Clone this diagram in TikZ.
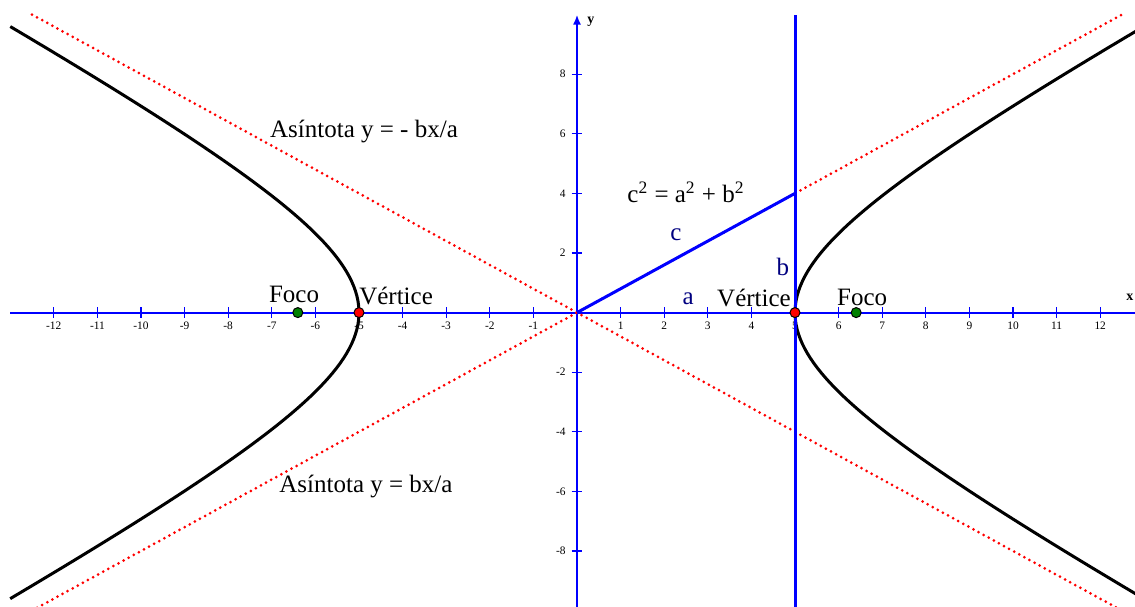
\documentclass[tikz,border=0pt]{standalone}
\usepackage{fontspec}
\setmainfont{Liberation Serif}
\usetikzlibrary{arrows.meta,positioning}
\definecolor{axisblue}{HTML}{0000FF}
\definecolor{navy}{HTML}{000080}
\definecolor{foco}{HTML}{008000}

\begin{document}
\begin{tikzpicture}[x=21.8pt,y=14.9pt,>={Latex[length=5pt,width=4pt]},
axis/.style={axisblue,line width=1pt},
tickmark/.style={axisblue,line width=0.6pt},
asym/.style={red,line width=1.5pt,dash pattern=on 0pt off 2.9pt,line cap=round},
curve/.style={black,line width=1.5pt},
lbl/.style={font=\fontsize{12.5}{15}\selectfont},
seg/.style={lbl,text=navy},
ticklbl/.style={font=\fontsize{5.7}{6}\selectfont},
pt/.style={circle,draw=black,line width=0.5pt,inner sep=0pt,minimum size=5pt}]
\useasboundingbox (-13.234,-9.846) rectangle (12.798,10.49);
% axes
\coordinate (xl) at (-13,0);
\coordinate (xr) at (13.3,0);
\coordinate (yb) at (0,-10);
\coordinate (yt) at (0,10);
\foreach \x in {-12,...,-1,1,2,...,12} {
  \draw[tickmark] (\x,-0.18) -- (\x,0.18);
  \node[ticklbl] at (\x,-0.43) {\x};
}
\foreach \y in {-8,-6,-4,-2,2,4,6,8} {
  \draw[tickmark] (-0.125,\y) -- (0.125,\y);
  \node[ticklbl,anchor=east] at (-0.1,\y) {\y};
}
\draw[axis,->] (xl) -- (xr);
\draw[axis,->] (yb) -- (yt);
\node[font=\fontsize{7}{8}\selectfont\bfseries] (xlab) at (12.68,0.5) {x};
\node[font=\fontsize{7}{8}\selectfont\bfseries] (ylab) at (0.32,9.75) {y};
% asintotas
\draw[asym] (-12.5,10) -- (12.5,-10);
\draw[asym] (-12.5,-10) -- (12.5,10);
% hiperbola
\draw[curve] plot[domain=-9.6:9.6,samples=120,variable=\t] ({5*sqrt(1+\t*\t/16)},\t);
\draw[curve] plot[domain=-9.6:9.6,samples=120,variable=\t] ({-5*sqrt(1+\t*\t/16)},\t);
% triangulo
\coordinate (O) at (0,0);
\coordinate (P) at (5,4);
\coordinate (vb) at (5,-10);
\coordinate (vt) at (5,10);
\draw[axisblue,line width=1.5pt] (vb) -- (vt);
\draw[axisblue,line width=1.5pt] (O) -- (P);
% puntos
\node[pt,fill=red] (v1) at (-5,0) {};
\node[pt,fill=red] (v2) at (5,0) {};
\node[pt,fill=foco] (f1) at (-6.403,0) {};
\node[pt,fill=foco] (f2) at (6.403,0) {};
% textos
\node[lbl] (as1) at (-4.885,6.09) {Asíntota y = - bx/a};
\node[lbl] (as2) at (-4.84,-5.85) {Asíntota y = bx/a};
\node[lbl] (pit) at (2.5,4.04) {c\textsuperscript{2} = a\textsuperscript{2} + b\textsuperscript{2}};
\node[seg] (c) at (2.27,2.6) {c};
\node[seg] (b) at (4.72,1.53) {b};
\node[seg] (a) at (2.55,0.46) {a};
\node[lbl] (vl1) at (-4.15,0.56) {Vértice};
\node[lbl] (vl2) at (4.06,0.49) {Vértice};
\node[lbl] (fl1) at (-6.49,0.62) {Foco};
\node[lbl] (fl2) at (6.54,0.52) {Foco};
\end{tikzpicture}
\end{document}
